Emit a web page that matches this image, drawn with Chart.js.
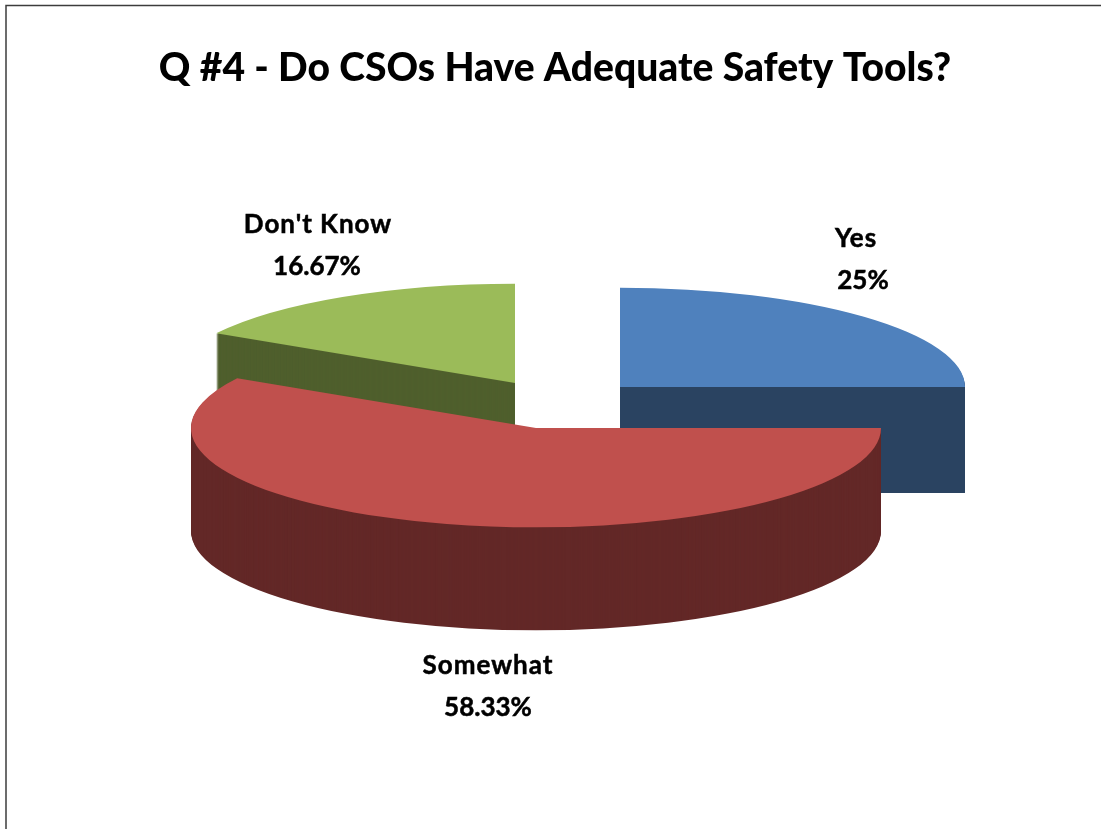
<!DOCTYPE html>
<html>
<head>
<meta charset="utf-8">
<title>Q #4</title>
<script src="https://cdn.jsdelivr.net/npm/chart.js@4"></script>
<style>
  html, body { margin: 0; padding: 0; background: #fff; overflow: hidden; }
  canvas { display: block; }
</style>
</head>
<body>
<canvas id="myChart" width="1101" height="829"></canvas>
<script>
const categories = ["Yes", "Somewhat", "Don't Know"];
const percentages = [25, 58.33, 16.67];
const percentLabels = ["25%", "58.33%", "16.67%"];

const topColors = ["#4f81bd", "#c0504d", "#9bbb59"];
const sideColors = ["#2a4361", "#632827", "#4f5f2d"];

// back slices first, the big one sits in front of the others
const drawOrder = [0, 2, 1];

const pieRadius = 345;
const explodeX = 87;
const explodeY = 85;
const squash = 0.288;
const sideDepths = [106, 103, 104];
const pieNudge = 3.5;
const fontName = "Lato, 'Open Sans', sans-serif";

// centre of the two text lines of each label
const labelSpots = [
  { x: 856, y: 239, x2: 863, y2: 281 },
  { x: 488, y: 666, x2: 488, y2: 708 },
  { x: 318, y: 225, x2: 317, y2: 267 }
];

const myChartElement = document.getElementById('myChart');

function sliceShape(ctx, arc) {
  ctx.beginPath();
  ctx.moveTo(arc.x, arc.y);
  ctx.arc(arc.x, arc.y, arc.outerRadius, arc.startAngle, arc.endAngle);
  ctx.closePath();
}

const pie3d = {
  id: 'pie3d',
  beforeDraw(chart) {
    const ctx = chart.ctx;
    ctx.save();
    ctx.strokeStyle = '#3c3c3c';
    ctx.lineWidth = 1.5;
    ctx.beginPath();
    ctx.moveTo(6, chart.height);
    ctx.lineTo(6, 5.5);
    ctx.lineTo(chart.width, 5.5);
    ctx.stroke();
    ctx.restore();
  },
  beforeDatasetsDraw(chart) {
    const ctx = chart.ctx;
    const arcs = chart.getDatasetMeta(0).data;

    drawOrder.forEach(i => {
      const arc = arcs[i];
      const mid = (arc.startAngle + arc.endAngle) / 2;
      // whole pixels, so the straight edges of the stack stay crisp
      const moveX = Math.round(arc.x + pieNudge + Math.cos(mid) * explodeX) - arc.x;
      const moveY = Math.round(arc.y + Math.sin(mid) * explodeY * squash);

      // side wall: the same slice stacked downwards
      for (let d = sideDepths[i]; d >= 0; d--) {
        ctx.save();
        ctx.translate(moveX, moveY + d);
        ctx.scale(1, squash);
        ctx.translate(0, -arc.y);
        if (d > 0) {
          ctx.fillStyle = sideColors[i];
          sliceShape(ctx, arc);
          ctx.fill();
        } else {
          arc.draw(ctx);
        }
        ctx.restore();
      }
    });
    return false;
  },
  afterDraw(chart) {
    const ctx = chart.ctx;
    ctx.save();
    ctx.fillStyle = '#000';
    ctx.strokeStyle = '#000';
    ctx.lineWidth = 0.5;
    ctx.font = "bold 26px " + fontName;
    ctx.textAlign = 'center';
    ctx.textBaseline = 'middle';
    categories.forEach((name, i) => {
      ctx.letterSpacing = '1px';
      ctx.fillText(name, labelSpots[i].x, labelSpots[i].y);
      ctx.strokeText(name, labelSpots[i].x, labelSpots[i].y);
      ctx.letterSpacing = '0px';
      ctx.fillText(percentLabels[i], labelSpots[i].x2, labelSpots[i].y2);
      ctx.strokeText(percentLabels[i], labelSpots[i].x2, labelSpots[i].y2);
    });
    ctx.restore();
  }
};

new Chart(myChartElement, {
  type: 'pie',
  data: {
    labels: categories,
    datasets: [{
      data: percentages,
      backgroundColor: topColors,
      borderWidth: 0,
      clip: false
    }]
  },
  options: {
    responsive: false,
    animation: false,
    radius: pieRadius,
    layout: { padding: { left: 9, right: 0, top: 0, bottom: 132 } },
    plugins: {
      legend: { display: false },
      tooltip: { enabled: false },
      title: {
        display: true,
        text: 'Q #4 - Do CSOs Have Adequate Safety Tools?',
        color: '#000',
        font: { family: fontName, size: 39, weight: '900' },
        padding: { top: 45, bottom: 20 }
      }
    }
  },
  plugins: [pie3d]
});
</script>
</body>
</html>
